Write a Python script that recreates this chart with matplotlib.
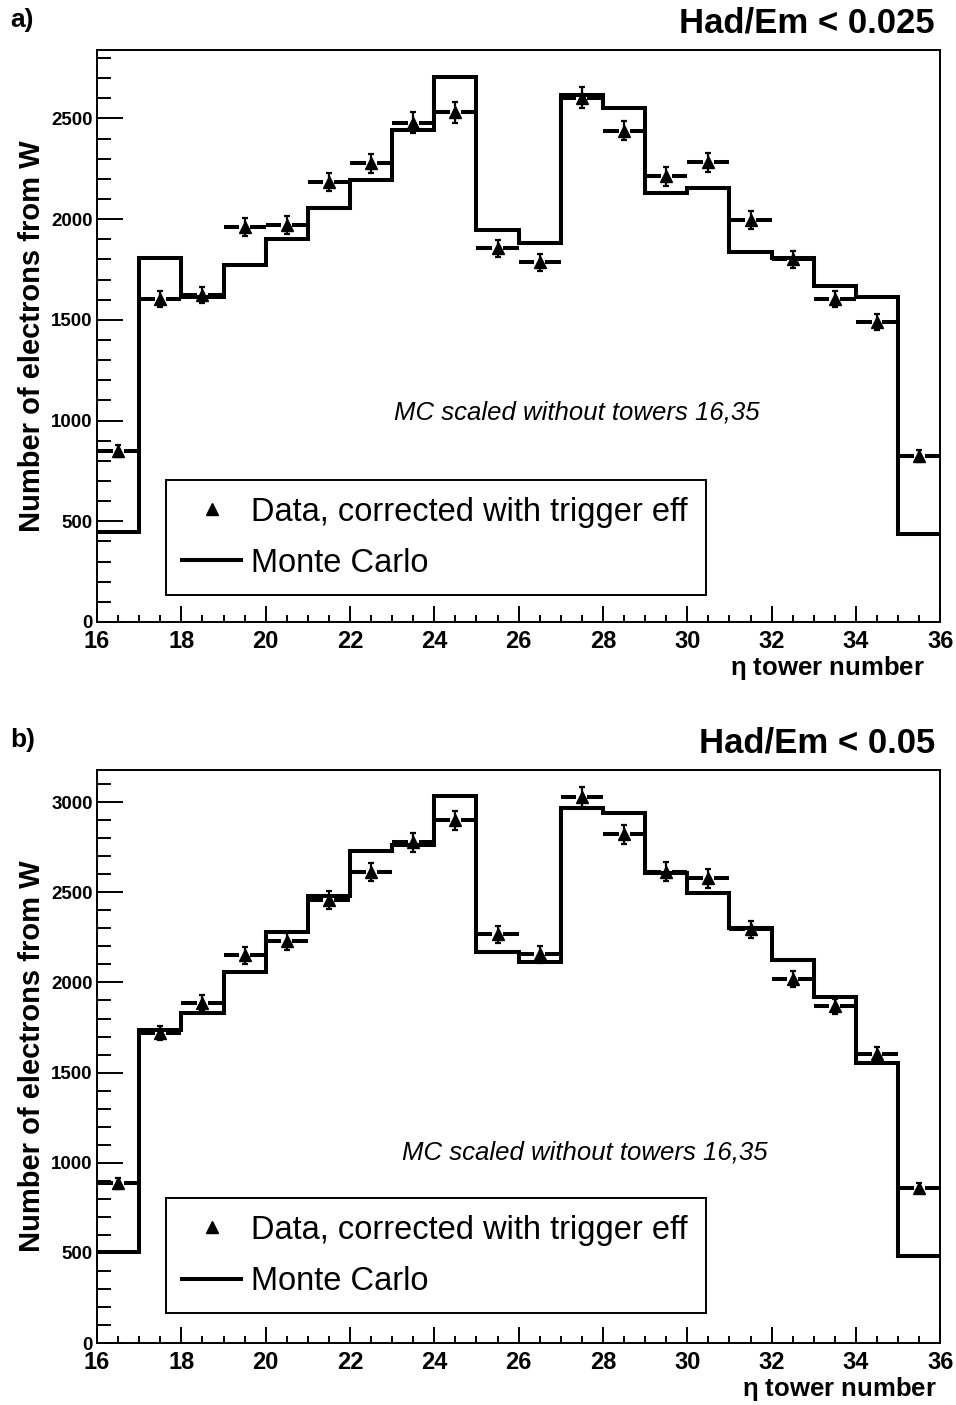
import numpy as np
import matplotlib
matplotlib.use("Agg")
import matplotlib.pyplot as plt
from matplotlib.ticker import MultipleLocator
from matplotlib.lines import Line2D

plt.rcParams['font.family'] = ['Liberation Sans', 'DejaVu Sans']

# tower bins (eta tower number), one bin per tower
towers = [16, 17, 18, 19, 20, 21, 22, 23, 24, 25,
          26, 27, 28, 29, 30, 31, 32, 33, 34, 35]

# panel a) Had/Em < 0.025
data_a = [848, 1602, 1625, 1960, 1970, 2183, 2277, 2480, 2530, 1855,
          1786, 2604, 2440, 2212, 2282, 1994, 1800, 1602, 1488, 825]
err_a = [30, 40, 40, 45, 45, 45, 48, 50, 50, 43,
         42, 51, 49, 47, 48, 45, 42, 40, 39, 29]
mc_a = [446, 1806, 1612, 1771, 1900, 2058, 2197, 2445, 2708, 1944,
        1880, 2619, 2550, 2128, 2153, 1835, 1806, 1667, 1612, 437]

# panel b) Had/Em < 0.05
data_b = [887, 1720, 1885, 2151, 2228, 2456, 2611, 2777, 2899, 2267,
          2156, 3027, 2822, 2615, 2577, 2295, 2018, 1868, 1602, 859]
err_b = [30, 41, 43, 46, 47, 50, 51, 53, 54, 48,
         46, 55, 53, 51, 51, 48, 45, 43, 40, 29]
mc_b = [504, 1735, 1829, 2057, 2278, 2478, 2727, 2760, 3032, 2167,
        2112, 2966, 2938, 2605, 2494, 2300, 2123, 1918, 1552, 482]

panels = [
    dict(tag="a)", cut="Had/Em < 0.025", data=data_a, err=err_a, mc=mc_a,
         ymax=2840, rect=[0.1015, 0.5573, 0.882, 0.4071],
         note_xy=(0.569, 0.367), leg_box=(0.082, 0.047, 0.64, 0.203),
         xlab_x=925),
    dict(tag="b)", cut="Had/Em < 0.05", data=data_b, err=err_b, mc=mc_b,
         ymax=3178, rect=[0.1015, 0.0441, 0.882, 0.4078],
         note_xy=(0.579, 0.332), leg_box=(0.082, 0.052, 0.64, 0.203),
         xlab_x=937),
]

fig = plt.figure(figsize=(9.56, 14.05), dpi=100)

for p in panels:
    ax = fig.add_axes(p['rect'])
    x = np.array(towers, dtype=float) + 0.5
    edges = list(towers) + [towers[-1] + 1]

    # Monte Carlo histogram
    ax.stairs(p['mc'], edges, baseline=None, color='k', lw=2.9)

    # data: horizontal bin-width bars with a gap around the marker
    y = np.array(p['data'], dtype=float)
    gap = 0.13
    ax.hlines(y, x - 0.5, x - gap, color='k', lw=2.9)
    ax.hlines(y, x + gap, x + 0.5, color='k', lw=2.9)
    ax.errorbar(x, y, yerr=p['err'], fmt='^', color='k', ms=8.5,
                elinewidth=1.6, capsize=2.5, capthick=1.6, zorder=5)

    ax.set_xlim(16, 36)
    ax.set_ylim(0, p['ymax'])
    ax.xaxis.set_major_locator(MultipleLocator(2))
    ax.xaxis.set_minor_locator(MultipleLocator(0.5))
    ax.yaxis.set_major_locator(MultipleLocator(500))
    ax.yaxis.set_minor_locator(MultipleLocator(100))
    ax.tick_params(axis='x', which='major', direction='in', length=11.5,
                   width=1.4, labelsize=17, pad=6, top=False)
    ax.tick_params(axis='x', which='minor', direction='in', length=5,
                   width=1.4, top=False)
    ax.tick_params(axis='y', which='major', direction='in', length=19,
                   width=1.4, labelsize=13.5, pad=3, right=False)
    ax.tick_params(axis='y', which='minor', direction='in', length=10,
                   width=1.4, right=False)
    for lab in ax.get_xticklabels() + ax.get_yticklabels():
        lab.set_fontweight('bold')
    for s in ax.spines.values():
        s.set_linewidth(1.4)

    ax.set_ylabel("Number of electrons from W", fontsize=21,
                  fontweight='bold', labelpad=4)

    ax.text(*p['note_xy'], "MC scaled without towers 16,35",
            transform=ax.transAxes, ha='center', va='center',
            fontsize=18.5, style='italic')

    handles = [Line2D([], [], ls='none', marker='^', color='k', ms=8.5),
               Line2D([], [], color='k', lw=2.9)]
    leg = ax.legend(handles, ["Data, corrected with trigger eff", "Monte Carlo"],
                    loc='lower left', bbox_to_anchor=p['leg_box'],
                    mode='expand', borderaxespad=0, fancybox=False,
                    edgecolor='k', framealpha=1, fontsize=23.5,
                    handlelength=1.8, handletextpad=0.3, labelspacing=0.62,
                    borderpad=0.5)
    leg.get_frame().set_linewidth(1.4)

    # panel tag, cut value and x label in figure pixels
    top_px = 1405 * (1 - p['rect'][1] - p['rect'][3])
    bot_px = 1405 * (1 - p['rect'][1])
    fig.text(10 / 956, 1 - (top_px - 30) / 1405, p['tag'], fontsize=19,
             fontweight='bold', ha='left', va='center')
    fig.text(935 / 956, 1 - (top_px - 27) / 1405, p['cut'], fontsize=25,
             fontweight='bold', ha='right', va='center')
    fig.text(p['xlab_x'] / 956, 1 - (bot_px + 46) / 1405, r"$\mathregular{\eta}$ tower number",
             fontsize=18.5, fontweight='bold', ha='right', va='center')

fig.savefig("out.png", dpi=100)
